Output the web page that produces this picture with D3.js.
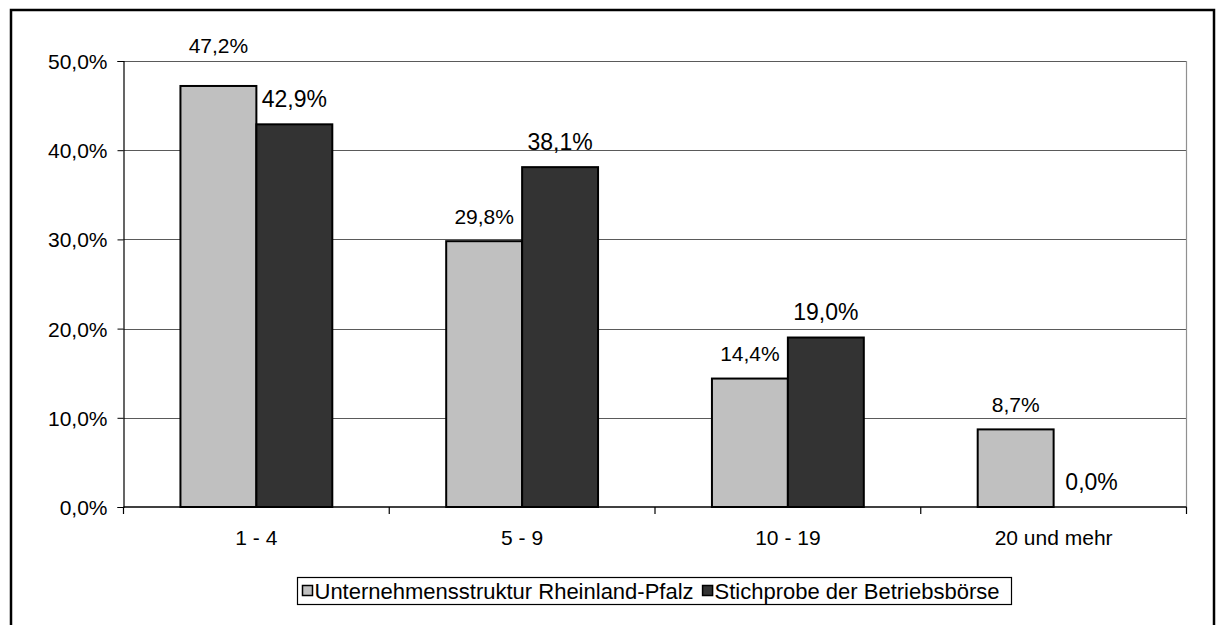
<!DOCTYPE html>
<html>
<head>
<meta charset="utf-8">
<script src="https://cdn.jsdelivr.net/npm/d3@7"></script>
<style>
  html, body { margin: 0; padding: 0; background: #fff; }
  svg { display: block; font-family: "Liberation Sans", Arial, sans-serif; }
</style>
</head>
<body>
<svg id="chart" width="1220" height="625"></svg>
<script>
const categories = ["1 - 4", "5 - 9", "10 - 19", "20 und mehr"];
const seriesNames = ["Unternehmensstruktur Rheinland-Pfalz", "Stichprobe der Betriebsbörse"];
const seriesUnternehmen = [47.2, 29.8, 14.4, 8.7];
const seriesStichprobe = [42.9, 38.1, 19.0, 0.0];
const yTicks = [0, 10, 20, 30, 40, 50];
const seriesColors = ["#c0c0c0", "#333333"];

const fmt = v => v.toFixed(1).replace(".", ",") + "%";

const svg = d3.select("#chart");
const plot = { left: 123.5, right: 1186.5, top: 61, bottom: 507 };

// outer border
svg.append("rect").attr("x", 11).attr("y", 10).attr("width", 1203).attr("height", 700)
  .attr("fill", "none").attr("stroke", "#000").attr("stroke-width", 2.5);

const x0 = d3.scaleBand().domain(categories).range([plot.left, plot.right]).paddingInner(0).paddingOuter(0);
const x1 = d3.scaleBand().domain([0, 1]).range([0, x0.bandwidth()]).paddingInner(0).paddingOuter(0.75);
const y = d3.scaleLinear().domain([0, 50]).range([plot.bottom, plot.top]);

// gridlines
svg.append("g").selectAll("line").data(yTicks.filter(t => t > 0)).join("line")
  .attr("x1", plot.left).attr("x2", plot.right)
  .attr("y1", d => Math.round(y(d)) + 0.5).attr("y2", d => Math.round(y(d)) + 0.5)
  .attr("stroke", "#5a5a5a").attr("stroke-width", 1);

// right plot border
svg.append("line").attr("x1", plot.right).attr("x2", plot.right)
  .attr("y1", plot.top).attr("y2", plot.bottom)
  .attr("stroke", "#909090").attr("stroke-width", 1.2);

// y axis
const yAxis = d3.axisLeft(y).tickValues(yTicks).tickSize(6).tickPadding(10).tickFormat(fmt);
const gy = svg.append("g").attr("transform", `translate(${plot.left},0)`).call(yAxis);
gy.select(".domain").attr("stroke", "#000").attr("stroke-width", 1.2);
gy.selectAll(".tick line").attr("stroke", "#000");
gy.selectAll(".tick text").attr("font-size", 21).attr("fill", "#000")
  .attr("font-family", "'Liberation Sans', Arial, sans-serif").attr("dy", "0.36em");

// x axis
const xAxis = d3.axisBottom(x0).tickSize(0).tickPadding(0);
const gx = svg.append("g").attr("transform", `translate(0,${plot.bottom})`).call(xAxis);
gx.select(".domain").remove();
gx.selectAll(".tick text").attr("font-size", 21).attr("fill", "#000")
  .attr("font-family", "'Liberation Sans', Arial, sans-serif").attr("y", 38).attr("dy", 0);
// category boundary ticks
const bounds = categories.map(c => x0(c)).concat([x0(categories[categories.length - 1]) + x0.bandwidth()]);
svg.append("g").selectAll("line").data(bounds).join("line")
  .attr("x1", d => d).attr("x2", d => d).attr("y1", plot.bottom).attr("y2", plot.bottom + 7)
  .attr("stroke", "#000").attr("stroke-width", 1.2);

// bars
const data = categories.map((c, i) => ({ c, vals: [seriesUnternehmen[i], seriesStichprobe[i]] }));
const groups = svg.append("g").selectAll("g").data(data).join("g")
  .attr("transform", d => `translate(${x0(d.c)},0)`);
groups.selectAll("rect").data(d => d.vals.map((v, s) => ({ v, s }))).join("rect")
  .attr("x", d => x1(d.s)).attr("width", x1.bandwidth())
  .attr("y", d => y(d.v)).attr("height", d => y(0) - y(d.v))
  .attr("fill", d => seriesColors[d.s]).attr("stroke", "#000").attr("stroke-width", 2);

// x baseline drawn above bars
svg.append("line").attr("x1", plot.left).attr("x2", plot.right)
  .attr("y1", plot.bottom).attr("y2", plot.bottom).attr("stroke", "#000").attr("stroke-width", 1.5);

// data labels
const labelSizes = [21, 23];
groups.selectAll("text").data(d => d.vals.map((v, s) => ({ v, s }))).join("text")
  .attr("x", d => x1(d.s) + x1.bandwidth() / 2)
  .attr("y", d => {
    let base = y(d.v) - 17.5;
    const cap = labelSizes[d.s] * 0.72;
    if (base - cap < plot.top + 3) base = plot.top - 8;
    return base;
  })
  .attr("text-anchor", "middle").attr("font-size", d => labelSizes[d.s]).attr("fill", "#000")
  .text(d => fmt(d.v));

// legend
const lg = svg.append("g");
const box = { x: 297.5, y: 577.5, w: 714, h: 27 };
lg.append("rect").attr("x", box.x).attr("y", box.y).attr("width", box.w).attr("height", box.h)
  .attr("fill", "#fff").attr("stroke", "#000").attr("stroke-width", 1.2);
let cx = box.x + 5;
seriesNames.forEach((name, i) => {
  lg.append("rect").attr("x", cx).attr("y", box.y + 8).attr("width", 10).attr("height", 10)
    .attr("fill", seriesColors[i]).attr("stroke", "#000").attr("stroke-width", 1.5);
  const t = lg.append("text").attr("x", cx + 12).attr("y", box.y + 21)
    .attr("font-size", 22).attr("fill", "#000").text(name);
  cx = cx + 12 + t.node().getComputedTextLength() + 9;
});
</script>
</body>
</html>
